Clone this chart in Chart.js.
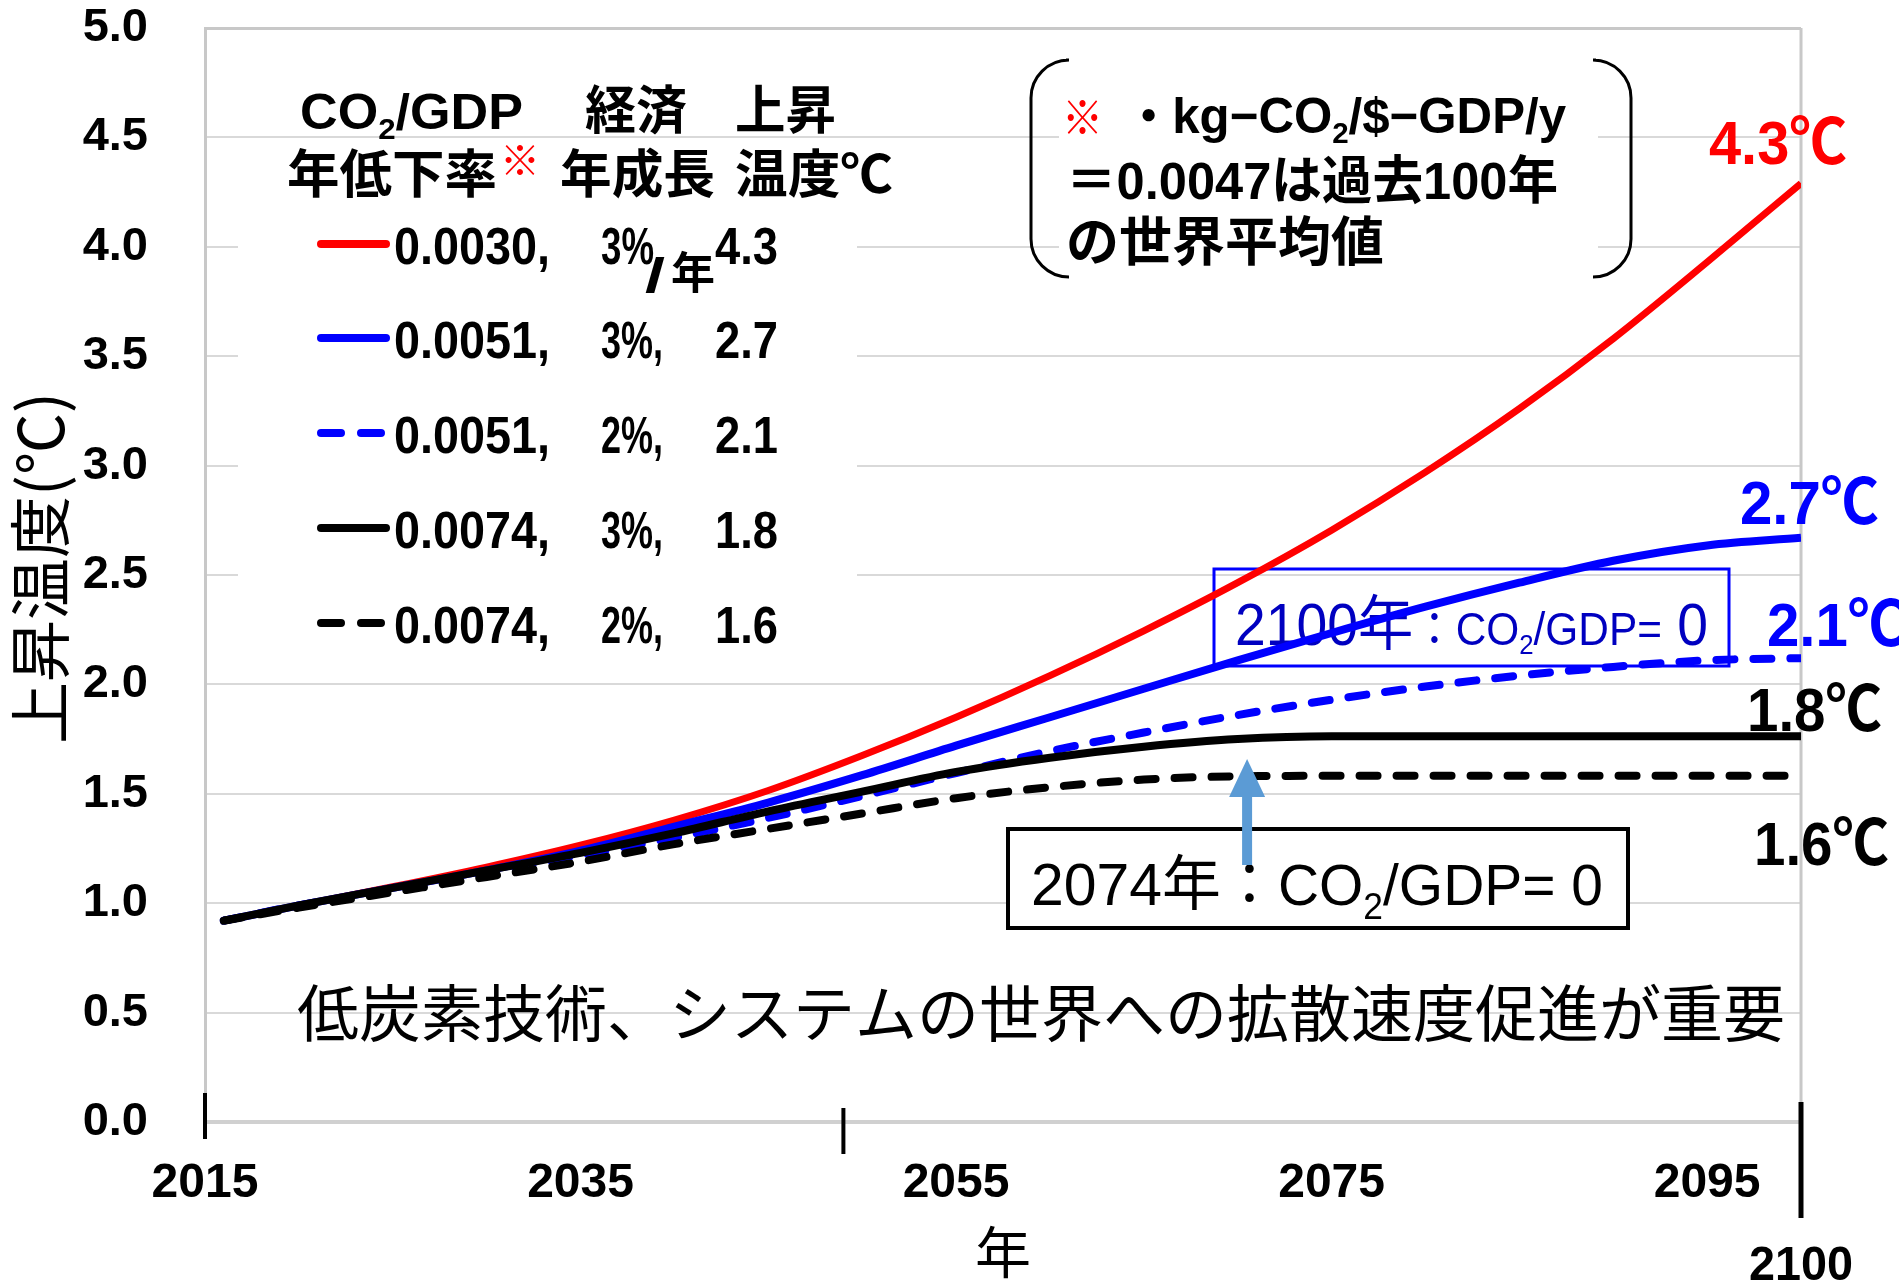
<!DOCTYPE html>
<html><head><meta charset="utf-8">
<script src="https://cdn.jsdelivr.net/npm/chart.js@4.4.0/dist/chart.umd.min.js"></script>
<style>html,body{margin:0;padding:0;background:#fff;} #wrap{width:1899px;height:1281px;}</style>
</head><body><div id="wrap"><canvas id="c" width="1899" height="1281"></canvas></div>
<script>
// ---------------- data ----------------
const years   = [2016,2020,2025,2030,2035,2040,2045,2050,2055,2060,2065,2070,2075,2080,2085,2090,2095,2100];
const red43   = [0.92,0.99,1.075,1.165,1.265,1.38,1.515,1.675,1.85,2.04,2.245,2.465,2.705,2.97,3.26,3.58,3.93,4.29];
const blue27  = [0.92,0.99,1.07,1.15,1.24,1.35,1.46,1.585,1.72,1.85,1.98,2.11,2.235,2.355,2.465,2.565,2.635,2.67];
const blue21  = [0.92,0.99,1.06,1.14,1.22,1.30,1.39,1.49,1.595,1.695,1.78,1.86,1.93,1.99,2.04,2.08,2.11,2.12];
const black18 = [0.92,0.99,1.07,1.15,1.23,1.32,1.42,1.51,1.60,1.665,1.715,1.75,1.763,1.763,1.763,1.763,1.763,1.763];
const black16 = [0.92,0.98,1.05,1.12,1.19,1.27,1.34,1.41,1.48,1.53,1.565,1.58,1.582,1.582,1.582,1.582,1.582,1.582];

const xTickYears = [2015, 2035, 2055, 2075, 2095];
const legendRate   = ['0.0030', '0.0051', '0.0051', '0.0074', '0.0074'];
const legendGrowth = ['3%', '3%', '2%', '3%', '2%'];
const legendTemp   = ['4.3', '2.7', '2.1', '1.8', '1.6'];
const endLabels    = ['4.3℃', '2.7℃', '2.1℃', '1.8℃', '1.6℃'];
const arrowYear = 2070.5;
const extraTickYears = [2015, 2049, 2100];
const message = '低炭素技術、システムの世界への拡散速度促進が重要';

// ---------------- fonts / helpers ----------------
const LAT = '"Liberation Sans", "Noto Sans CJK JP", sans-serif';
const JP  = '"Noto Sans CJK JP", sans-serif';
const fB = s => `bold ${s}px ${LAT}`;
const fR = s => `${s}px ${LAT}`;
const jB = s => `bold ${s}px ${JP}`;
const jR = s => `${s}px ${JP}`;

function runs(ctx, x, y, list, width) {
  let total = 0;
  const ws = list.map(r => { ctx.font = r.f; const w = ctx.measureText(r.t).width; total += w; return w; });
  const sx = width ? width / total : 1;
  ctx.save();
  ctx.translate(x, y);
  ctx.scale(sx, 1);
  ctx.textAlign = 'left';
  ctx.textBaseline = 'alphabetic';
  let cx = 0;
  list.forEach((r, i) => {
    ctx.font = r.f;
    ctx.fillStyle = r.c || '#000';
    ctx.fillText(r.t, cx, r.dy || 0);
    cx += ws[i];
  });
  ctx.restore();
}

const seriesData = [red43, blue27, blue21, black18, black16];
const colors = ['#ff0000', '#0000ff', '#0000ff', '#000000', '#000000'];
const widths = [7, 8, 8, 8, 8];
const dashes = [[], [], [18, 19], [], [18, 19]];
const orders = [5, 4, 3, 2, 1];

const datasets = seriesData.map((arr, i) => ({
  label: legendRate[i] + ', ' + legendGrowth[i] + ', ' + legendTemp[i],
  data: years.map((y, j) => ({x: y, y: arr[j]})),
  borderColor: colors[i],
  backgroundColor: colors[i],
  borderWidth: widths[i],
  borderDash: dashes[i],
  borderCapStyle: dashes[i].length ? 'round' : 'butt',
  pointRadius: 0,
  cubicInterpolationMode: 'monotone',
  fill: false,
  order: orders[i]
}));

const overlay = {
  id: 'overlay',
  beforeDatasetsDraw(chart) {
    const ctx = chart.ctx, ca = chart.chartArea;
    ctx.save();
    // right border of plot
    ctx.strokeStyle = '#c8c8c8';
    ctx.lineWidth = 3;
    ctx.beginPath();
    ctx.moveTo(ca.right, ca.top);
    ctx.lineTo(ca.right, ca.bottom);
    ctx.stroke();
    // white backdrops
    ctx.fillStyle = '#ffffff';
    ctx.fillRect(238, 145, 619, 525);
    ctx.fillRect(1059, 70, 539, 200);
    // bottom message
    runs(ctx, 297, 1037, [{t: message, f: jR(62)}], 1488);
    // blue box
    ctx.strokeStyle = '#0000ff';
    ctx.lineWidth = 3;
    ctx.strokeRect(1214, 569, 515, 97);
    const bt = '#0000c0';
    runs(ctx, 1235, 645, [
      {t: '2100年', f: fR(60), c: bt},
      {t: '：CO', f: fR(46), c: bt},
      {t: '2', f: fR(28), c: bt, dy: 9},
      {t: '/GDP=', f: fR(46), c: bt},
      {t: ' 0', f: fR(60), c: bt}
    ], 473);
    ctx.restore();
  },
  afterDatasetsDraw(chart) {
    const ctx = chart.ctx;
    const xs = chart.scales.x;
    ctx.save();
    // ---- legend ----
    runs(ctx, 300, 129, [{t: 'CO', f: fB(50)}, {t: '2', f: fB(30), dy: 10}, {t: '/GDP', f: fB(50)}], 223);
    runs(ctx, 585, 129, [{t: '経済', f: jB(52)}], 102);
    runs(ctx, 735, 129, [{t: '上昇', f: jB(52)}], 101);
    runs(ctx, 287, 193, [{t: '年低下率', f: jB(52)}], 210);
    runs(ctx, 500, 175, [{t: '※', f: jB(40), c: '#ff0000'}], 40);
    runs(ctx, 560, 193, [{t: '年成長', f: jB(52)}], 155);
    runs(ctx, 735, 193, [{t: '温度℃', f: jB(52)}], 158);
    const rowBase = [264, 358, 453, 548, 643];
    chart.data.datasets.forEach((ds, i) => {
      const b = rowBase[i];
      ctx.save();
      ctx.strokeStyle = ds.borderColor;
      ctx.lineWidth = 8;
      ctx.setLineDash(ds.borderDash.length ? [20, 20] : []);
      ctx.lineCap = 'round';
      ctx.beginPath();
      ctx.moveTo(321, b - 20);
      ctx.lineTo(386, b - 20);
      ctx.stroke();
      ctx.restore();
      runs(ctx, 394, b, [{t: legendRate[i] + ',', f: fB(52)}], 156);
      if (i === 0) {
        runs(ctx, 601, b, [{t: legendGrowth[i], f: fB(52)}], 53);
        runs(ctx, 645, 292, [{t: '/', f: fB(48)}], 20);
        runs(ctx, 671, 289, [{t: '年', f: jB(44)}], 44);
      } else {
        runs(ctx, 601, b, [{t: legendGrowth[i] + ',', f: fB(52)}], 62);
      }
      runs(ctx, 715, b, [{t: legendTemp[i], f: fB(52)}], 63);
    });

    // ---- note with brackets ----
    ctx.strokeStyle = '#000';
    ctx.lineWidth = 3;
    ctx.beginPath();
    ctx.moveTo(1066, 60);
    ctx.arcTo(1031, 60, 1031, 110, 38);
    ctx.arcTo(1031, 277, 1066, 277, 38);
    ctx.lineTo(1066, 277);
    ctx.stroke();
    ctx.beginPath();
    ctx.moveTo(1596, 60);
    ctx.arcTo(1631, 60, 1631, 110, 38);
    ctx.arcTo(1631, 277, 1596, 277, 38);
    ctx.lineTo(1596, 277);
    ctx.stroke();
    runs(ctx, 1062, 134, [{t: '※', f: jB(46), c: '#ff0000'}], 41);
    runs(ctx, 1125, 133, [
      {t: '・', f: jB(48)},
      {t: 'kg−CO', f: fB(50)},
      {t: '2', f: fB(30), dy: 10},
      {t: '/$−GDP/y', f: fB(50)}
    ], 441);
    runs(ctx, 1066, 199, [{t: '＝0.0047は過去100年', f: fB(52)}], 492);
    runs(ctx, 1066, 261, [{t: 'の世界平均値', f: jB(53)}], 318);

    // ---- end labels ----
    runs(ctx, 1709, 164, [{t: endLabels[0], f: fB(62), c: '#ff0000'}], 138);
    runs(ctx, 1740, 524, [{t: endLabels[1], f: fB(62), c: '#0000ff'}], 139);
    runs(ctx, 1767, 646, [{t: endLabels[2], f: fB(62), c: '#0000ff'}], 139);
    runs(ctx, 1747, 731, [{t: endLabels[3], f: fB(62), c: '#000000'}], 135);
    runs(ctx, 1754, 865, [{t: endLabels[4], f: fB(62), c: '#000000'}], 135);

    // ---- black box ----
    ctx.fillStyle = '#ffffff';
    ctx.fillRect(1008, 829, 620, 99);
    ctx.strokeStyle = '#000';
    ctx.lineWidth = 4;
    ctx.strokeRect(1008, 829, 620, 99);
    runs(ctx, 1031, 905, [
      {t: '2074年', f: fR(60)},
      {t: '：CO', f: fR(58)},
      {t: '2', f: fR(36), dy: 14},
      {t: '/GDP= 0', f: fR(58)}
    ], 572);

    // ---- arrow ----
    const ax = xs.getPixelForValue(arrowYear);
    ctx.fillStyle = '#5b9bd5';
    ctx.fillRect(ax - 5, 794, 10, 71);
    ctx.beginPath();
    ctx.moveTo(ax, 759);
    ctx.lineTo(ax + 18, 797);
    ctx.lineTo(ax - 18, 797);
    ctx.closePath();
    ctx.fill();
    ctx.restore();
  },
  afterDraw(chart) {
    const ctx = chart.ctx;
    const xs = chart.scales.x;
    ctx.save();
    ctx.strokeStyle = '#000';
    const spans = [[1093, 1139, 4], [1108, 1154, 4], [1102, 1218, 5]];
    extraTickYears.forEach((yr, i) => {
      const px = xs.getPixelForValue(yr);
      ctx.lineWidth = spans[i][2];
      ctx.beginPath();
      ctx.moveTo(px, spans[i][0]);
      ctx.lineTo(px, spans[i][1]);
      ctx.stroke();
    });
    const p2100 = xs.getPixelForValue(2100);
    runs(ctx, p2100 - 52, 1280, [{t: '2100', f: fB(48)}], 104);
    ctx.restore();
  }
};

new Chart(document.getElementById('c'), {
  type: 'line',
  data: {datasets},
  options: {
    responsive: false,
    maintainAspectRatio: false,
    devicePixelRatio: 1,
    animation: false,
    layout: {padding: {top: 28, right: 98, left: 0, bottom: 0}},
    plugins: {legend: {display: false}, tooltip: {enabled: false}},
    scales: {
      x: {
        type: 'linear',
        min: 2015,
        max: 2100,
        afterBuildTicks: s => { s.ticks = xTickYears.map(v => ({value: v})); },
        afterFit: s => { s.height = 159; s.paddingLeft = 0; s.paddingRight = 0; },
        grid: {display: false, drawTicks: false, tickLength: 0},
        border: {display: true, color: '#d0d0d0', width: 4},
        ticks: {
          color: '#000',
          padding: 33,
          maxRotation: 0,
          autoSkip: false,
          font: {family: LAT, weight: 'bold', size: 48},
          callback: v => String(v)
        },
        title: {
          display: true,
          text: '年',
          color: '#000',
          font: {family: JP, size: 56, weight: 'normal', lineHeight: 1},
          padding: {top: 0, bottom: 1}
        }
      },
      y: {
        min: 0,
        max: 5,
        afterFit: s => { s.width = 205; s.paddingTop = 0; s.paddingBottom = 0; },
        grid: {
          drawTicks: false,
          tickLength: 0,
          color: c => (c.tick && c.tick.value === 5) ? '#c8c8c8' : '#d9d9d9',
          lineWidth: c => (c.tick && c.tick.value === 5) ? 3 : 2
        },
        border: {display: true, color: '#c8c8c8', width: 3},
        ticks: {
          stepSize: 0.5,
          color: '#000',
          padding: 57,
          font: {family: LAT, weight: 'bold', size: 47},
          callback: v => Number(v).toFixed(1)
        },
        title: {
          display: true,
          text: ' 上昇温度(℃)',
          color: '#000',
          font: {family: JP, size: 62, weight: 'normal', lineHeight: 1},
          padding: {top: 9, bottom: 0}
        }
      }
    }
  },
  plugins: [overlay]
});
</script>
</body></html>
